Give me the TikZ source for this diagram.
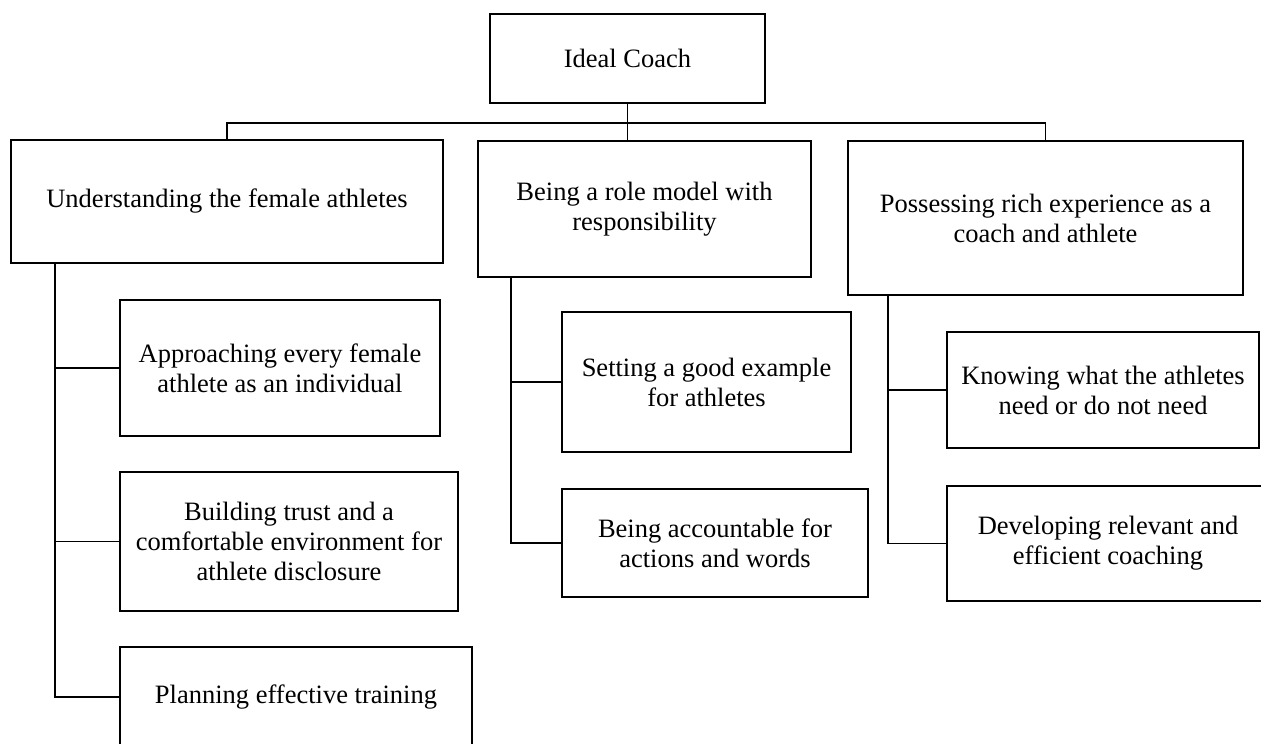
\documentclass[tikz,border=0pt]{standalone}
\usepackage{fontspec}
\setmainfont{Liberation Serif}
\begin{document}
\begin{tikzpicture}[x=1pt,y=-1pt,
  box/.style={draw=black,line width=1.8pt,inner sep=0pt,align=center,
    font=\fontsize{26.5}{30}\selectfont},
  link/.style={draw=black,line width=1.8pt}]
\useasboundingbox (0,0) rectangle (1261,744);
\clip (0,0) rectangle (1261,744);
\node[box,minimum width=275,minimum height=89] (root) at (627.5,58.5) {Ideal Coach};
\node[box,minimum width=432,minimum height=123] (und) at (227,201.5) {Understanding the female athletes};
\node[box,minimum width=333,minimum height=136] (role) at (644.5,209) {Being a role model with\\responsibility};
\node[box,minimum width=395,minimum height=154] (pos) at (1045.5,218) {Possessing rich experience as a\\coach and athlete};
\node[box,minimum width=320,minimum height=136] (app) at (280,368) {Approaching every female\\athlete as an individual};
\node[box,minimum width=338,minimum height=139] (bld) at (289,541.5) {Building trust and a\\comfortable environment for\\athlete disclosure};
\node[box,minimum width=352,minimum height=100] (plan) at (296,697) {Planning effective training};
\node[box,minimum width=289,minimum height=140] (set) at (706.5,382) {Setting a good example\\for athletes};
\node[box,minimum width=306,minimum height=108] (acc) at (715,543) {Being accountable for\\actions and words};
\node[box,minimum width=312,minimum height=116] (know) at (1103,390) {Knowing what the athletes\\need or do not need};
\node[box,minimum width=322,minimum height=115] (dev) at (1108,543.5) {Developing relevant and\\efficient coaching};
\coordinate (bar) at (0,123);
\coordinate (tl) at (55,0);
\coordinate (tm) at (511,0);
\coordinate (tr) at (888,0);
\draw[link] (root.south) -- (root.south |- role.north);
\draw[link] (und.north) |- (bar -| pos.north) -- (pos.north);
\draw[link] (tl |- und.south) |- (plan.west);
\draw[link] (tl |- app.west) -- (app.west);
\draw[link] (tl |- bld.west) -- (bld.west);
\draw[link] (tm |- role.south) |- (acc.west);
\draw[link] (tm |- set.west) -- (set.west);
\draw[link] (tr |- pos.south) |- (dev.west);
\draw[link] (tr |- know.west) -- (know.west);
\end{tikzpicture}
\end{document}
